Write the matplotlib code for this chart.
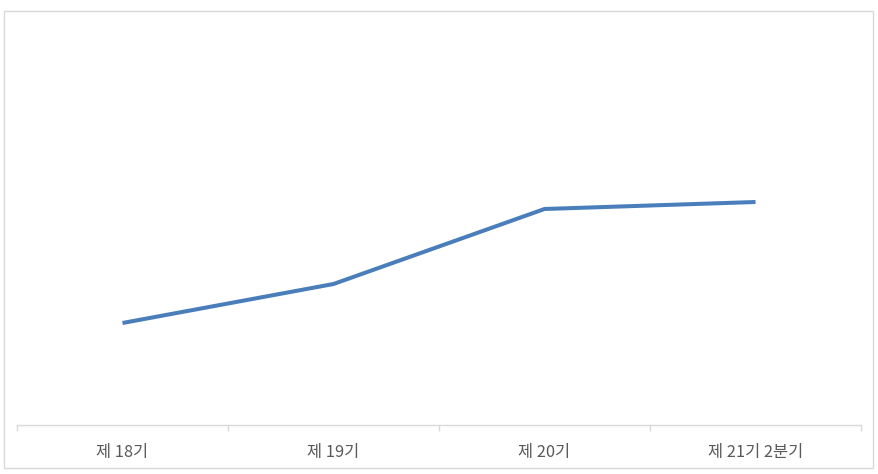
import matplotlib
matplotlib.use('Agg')
import matplotlib.pyplot as plt
from matplotlib.patches import Rectangle

plt.rcParams['font.family'] = ['Noto Sans CJK KR', 'DejaVu Sans']

categories = ['제 18기', '제 19기', '제 20기', '제 21기 2분기']
values = [102, 141, 216, 223]

fig = plt.figure(figsize=(8.79, 4.74), dpi=100)
W, H = 879, 474

# chart border
fig.patches.append(Rectangle((4.5 / W, 1 - 468 / H), (873 - 4.5) / W, (468 - 11) / H,
                             transform=fig.transFigure, fill=False,
                             edgecolor='#d9d9d9', linewidth=1))

ax = fig.add_axes([17 / W, 1 - 425 / H, (861 - 17) / W, (425 - 25) / H])
x = list(range(len(categories)))
ax.plot(x, values, color='#4a7ebb', linewidth=2.9, solid_capstyle='butt')

ax.set_xlim(-0.5, len(categories) - 0.5)
ax.set_ylim(0, 400)
for s in ['top', 'right', 'left']:
    ax.spines[s].set_visible(False)
ax.spines['bottom'].set_color('#d9d9d9')
ax.spines['bottom'].set_linewidth(1)
ax.set_yticks([])
ax.set_xticks(x)
ax.set_xticklabels(categories, fontsize=11.8, color='#595959')
ax.tick_params(axis='x', which='major', length=0, pad=14)
ax.set_xticks([i - 0.5 for i in range(len(categories) + 1)], minor=True)
ax.tick_params(axis='x', which='minor', length=4, color='#d9d9d9', width=1)

fig.savefig('out.png', dpi=100)
